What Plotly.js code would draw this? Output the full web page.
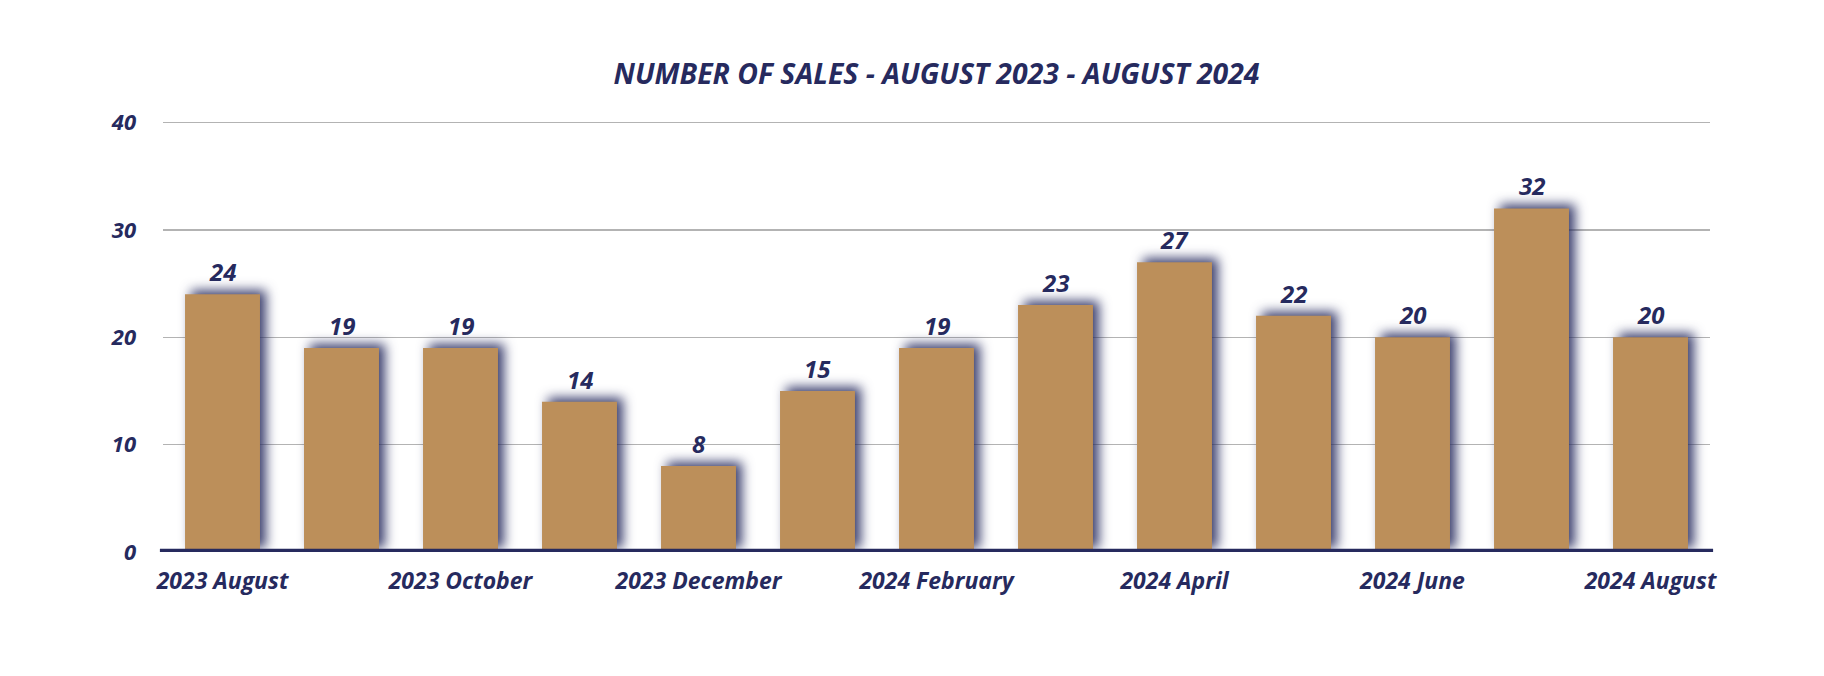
<!DOCTYPE html>
<html>
<head>
<meta charset="utf-8">
<script src="https://cdn.plot.ly/plotly-3.0.1.min.js"></script>
<style>
html,body{margin:0;padding:0;background:#fff;}
#chart{width:1824px;height:676px;}
.bars .point path{filter:drop-shadow(6px -4px 6px rgba(38,42,94,0.9));}
</style>
</head>
<body>
<div id="chart"></div>
<script>
const months = ["2023 August","2023 September","2023 October","2023 November","2023 December","2024 January","2024 February","2024 March","2024 April","2024 May","2024 June","2024 July","2024 August"];
const sales = [24,19,19,14,8,15,19,23,27,22,20,32,20];
const yTicks = [0,10,20,30,40];
const chartTitle = "NUMBER OF SALES - AUGUST 2023 - AUGUST 2024";

const navy = "#262A5E";
const gold = "#BC8F5A";
const fontFam = "'Open Sans', Lato, sans-serif";

const shownTicks = months.filter((m,i)=>i%2===0);

const trace = {
  type: "bar",
  x: months,
  y: sales,
  marker: {color: gold, line: {width: 0}},
  hoverinfo: "x+y"
};

const labels = months.map((m,i)=>({
  x: m, y: sales[i], xref: "x", yref: "y",
  text: String(sales[i]), showarrow: false,
  yanchor: "bottom", yshift: 4,
  font: {family: fontFam, size: 24, color: navy, weight: 700, style: "italic"}
}));

const layout = {
  width: 1824, height: 676,
  margin: {l: 163, r: 114, t: 121, b: 124},
  paper_bgcolor: "#fff", plot_bgcolor: "#fff",
  bargap: 0.37,
  showlegend: false,
  title: {
    text: chartTitle,
    font: {family: fontFam, size: 28.4, color: navy, weight: 700, style: "italic"},
    x: 0.5, xref: "paper", xanchor: "center",
    y: 1 - 74/676, yref: "container", yanchor: "middle"
  },
  xaxis: {
    type: "category",
    tickmode: "array",
    tickvals: shownTicks,
    ticktext: shownTicks,
    showgrid: false,
    showline: false,
    zeroline: false,
    ticks: "",
    ticklabelstandoff: 13,
    tickfont: {family: fontFam, size: 23, color: navy, weight: 700, style: "italic"}
  },
  yaxis: {
    range: [0, 40.15],
    tickvals: yTicks,
    showgrid: true,
    gridcolor: "#B3B3B3",
    gridwidth: 1.5,
    zeroline: false,
    showline: false,
    ticks: "",
    ticklabelstandoff: 26,
    tickfont: {family: fontFam, size: 22, color: navy, weight: 700, style: "italic"}
  },
  annotations: labels,
  shapes: [{
    type: "line", xref: "paper", yref: "y",
    x0: -0.002, x1: 1.002, y0: 0, y1: 0,
    line: {color: navy, width: 6.5},
    layer: "above"
  }]
};

Plotly.newPlot("chart", [trace], layout, {displayModeBar: false, staticPlot: true});
</script>
</body>
</html>
